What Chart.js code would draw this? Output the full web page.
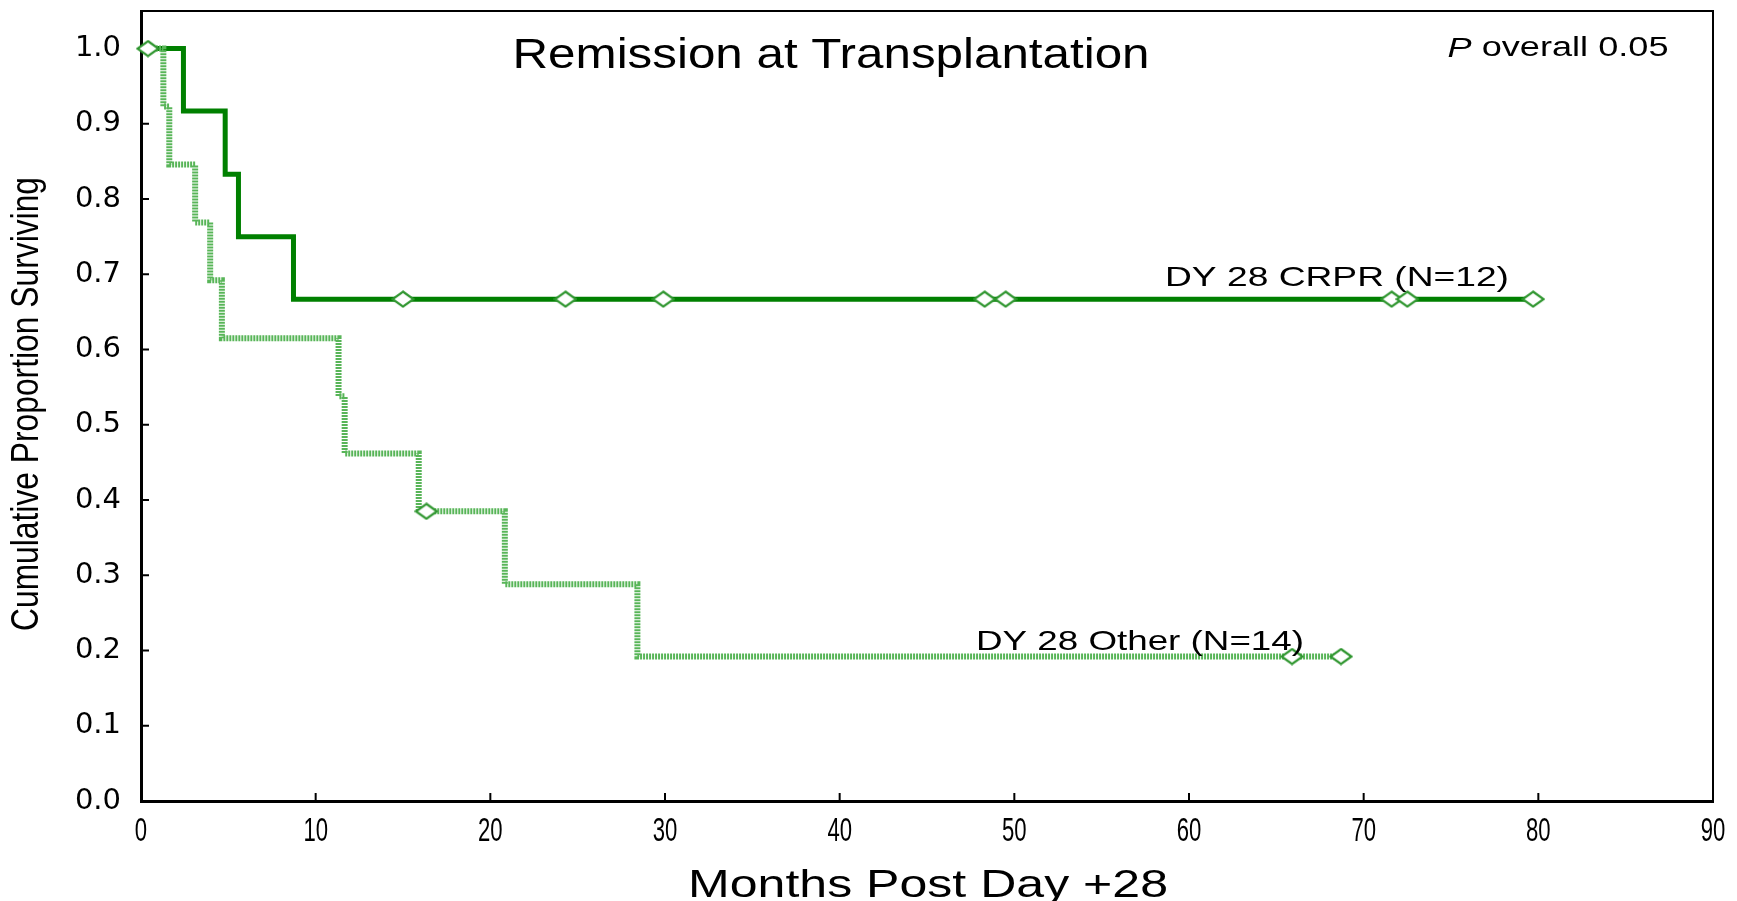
<!DOCTYPE html>
<html>
<head>
<meta charset="utf-8">
<script src="https://cdn.jsdelivr.net/npm/chart.js@4.4.0/dist/chart.umd.min.js"></script>
<style>
  body { margin: 0; background: #fff; }
  canvas { display: block; }
</style>
</head>
<body>
<canvas id="kmChart" width="1737" height="901"></canvas>
<script>
// Kaplan-Meier steps (months, proportion surviving)
const crprTimes = [0, 2.43, 4.82, 5.58, 8.73, 79.7];
const crprSurv = [1.0, 0.917, 0.833, 0.75, 0.667, 0.667];
const crprCensorTimes = [15.0, 24.3, 29.9, 48.3, 49.5, 71.6, 72.5, 79.7];
const crprCensorSurv = [0.667, 0.667, 0.667, 0.667, 0.667, 0.667, 0.667, 0.667];

const otherTimes = [0, 1.28, 1.62, 3.1, 3.96, 4.63, 11.31, 11.66, 15.9, 20.83, 28.42, 68.7];
const otherSurv = [1.0, 0.923, 0.846, 0.769, 0.692, 0.615, 0.538, 0.462, 0.385, 0.288, 0.192, 0.192];
const otherCensorTimes = [0.4, 16.34, 65.9, 68.7];
const otherCensorSurv = [1.0, 0.385, 0.192, 0.192];

const xTicks = [0, 10, 20, 30, 40, 50, 60, 70, 80, 90];
const yTicks = [0, 0.1, 0.2, 0.3, 0.4, 0.5, 0.6, 0.7, 0.8, 0.9, 1.0];

const toPoints = (xs, ys) => xs.map((x, i) => ({ x: x, y: ys[i] }));

// hollow diamond used for censored cases
function diamond(color) {
  const c = document.createElement('canvas');
  c.width = 24; c.height = 18;
  const g = c.getContext('2d');
  g.beginPath();
  g.moveTo(12, 1.5); g.lineTo(22.5, 9); g.lineTo(12, 16.5); g.lineTo(1.5, 9); g.closePath();
  g.fillStyle = '#fff'; g.fill();
  g.lineWidth = 2.2; g.strokeStyle = color; g.stroke();
  return c;
}
const censorMark = diamond('#2f962f');

const SANS = '"Liberation Sans", Arial, sans-serif';

// text squeezed/stretched into a given width
function fitText(ctx, parts, cx, cy, width, size, rotate) {
  ctx.save();
  let total = 0;
  parts.forEach(p => {
    ctx.font = (p.italic ? 'italic ' : '') + size + 'px ' + SANS;
    p.w = ctx.measureText(p.t).width;
    total += p.w;
  });
  ctx.translate(cx, cy);
  if (rotate) ctx.rotate(-Math.PI / 2);
  ctx.scale(width / total, 1);
  ctx.fillStyle = '#000';
  ctx.textBaseline = 'middle';
  ctx.textAlign = 'left';
  let x = -total / 2;
  parts.forEach(p => {
    ctx.font = (p.italic ? 'italic ' : '') + size + 'px ' + SANS;
    ctx.fillText(p.t, x, 0);
    x += p.w;
  });
  ctx.restore();
}

const framePlugin = {
  id: 'frame',
  beforeDatasetsDraw(chart) {
    const ctx = chart.ctx;
    const a = chart.chartArea;
    const xs = chart.scales.x, ys = chart.scales.y;
    ctx.save();
    ctx.strokeStyle = '#000';
    ctx.lineWidth = 2;
    ctx.beginPath();
    ctx.moveTo(a.left, a.top); ctx.lineTo(a.right, a.top); ctx.lineTo(a.right, a.bottom);
    ctx.stroke();
    // inward tick marks
    ctx.beginPath();
    xTicks.forEach(v => {
      const px = xs.getPixelForValue(v);
      ctx.moveTo(px, a.bottom); ctx.lineTo(px, a.bottom - 8);
    });
    yTicks.forEach(v => {
      const py = ys.getPixelForValue(v);
      ctx.moveTo(a.left, py); ctx.lineTo(a.left + 8, py);
    });
    ctx.stroke();
    // narrow x tick labels
    ctx.font = '34px ' + SANS;
    ctx.fillStyle = '#000';
    ctx.textAlign = 'center';
    ctx.textBaseline = 'middle';
    xTicks.forEach(v => {
      ctx.save();
      ctx.translate(xs.getPixelForValue(v), a.bottom + 31);
      ctx.scale(0.65, 1);
      ctx.fillText(String(v), 0, 0);
      ctx.restore();
    });
    ctx.restore();
  },
  afterDraw(chart) {
    const ctx = chart.ctx;
    fitText(ctx, [{ t: 'Remission at Transplantation' }], 831, 56, 637, 42);
    fitText(ctx, [{ t: 'P', italic: true }, { t: ' overall 0.05' }], 1558, 49, 221, 27);
    fitText(ctx, [{ t: 'DY 28 CRPR (N=12)' }], 1337, 278, 344, 28);
    fitText(ctx, [{ t: 'DY 28 Other (N=14)' }], 1140, 642, 328, 28);
    fitText(ctx, [{ t: 'Months Post Day +28' }], 928, 886, 480, 39);
    fitText(ctx, [{ t: 'Cumulative Proportion Surviving' }], 28, 404, 454, 38, true);
  }
};

const ctx = document.getElementById('kmChart').getContext('2d');
const kmChart = new Chart(ctx, {
  type: 'line',
  data: {
    datasets: [
      {
        label: 'CRPR censored',
        data: toPoints(crprCensorTimes, crprCensorSurv),
        showLine: false,
        pointStyle: censorMark,
        pointRadius: 9,
        clip: false,
        order: 0
      },
      {
        label: 'Other censored',
        data: toPoints(otherCensorTimes, otherCensorSurv),
        showLine: false,
        pointStyle: censorMark,
        pointRadius: 9,
        clip: false,
        order: 0
      },
      {
        label: 'DY 28 Other (N=14)',
        data: toPoints(otherTimes, otherSurv),
        stepped: true,
        borderColor: '#58b558',
        borderWidth: 6,
        borderDash: [2, 1],
        pointRadius: 0,
        fill: false,
        order: 1
      },
      {
        label: 'DY 28 CRPR (N=12)',
        data: toPoints(crprTimes, crprSurv),
        stepped: true,
        borderColor: '#008000',
        borderWidth: 5,
        pointRadius: 0,
        fill: false,
        order: 2
      }
    ]
  },
  options: {
    responsive: false,
    animation: false,
    layout: { padding: { top: 11, right: 24, left: 0, bottom: 0 } },
    plugins: {
      legend: { display: false },
      tooltip: { enabled: false },
      title: { display: false }
    },
    scales: {
      x: {
        type: 'linear',
        min: 0,
        max: 90,
        grid: { display: false, drawTicks: false },
        border: { display: true, color: '#000', width: 3 },
        ticks: { stepSize: 10, display: false },
        afterFit(scale) {
          scale.height = 100;
          scale.paddingLeft = 0;
          scale.paddingRight = 0;
        }
      },
      y: {
        min: 0,
        max: 1.05,
        grid: { display: false, drawTicks: false },
        border: { display: true, color: '#000', width: 3 },
        ticks: {
          stepSize: 0.1,
          includeBounds: false,
          padding: 20,
          color: '#000',
          font: { family: '"DejaVu Sans", sans-serif', size: 29 },
          callback: v => v.toFixed(1)
        },
        afterFit(scale) {
          scale.width = 141;
          scale.paddingTop = 0;
          scale.paddingBottom = 0;
        }
      }
    }
  },
  plugins: [framePlugin]
});
</script>
</body>
</html>
